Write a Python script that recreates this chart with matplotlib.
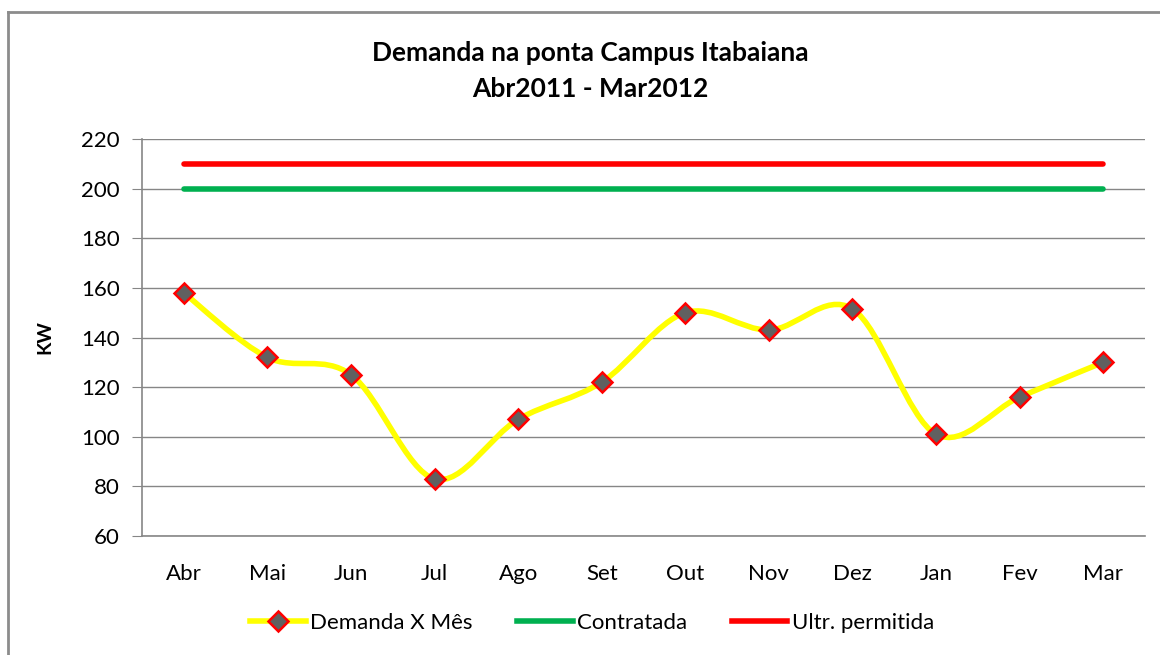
import matplotlib
matplotlib.use("Agg")
import matplotlib.pyplot as plt
from matplotlib.path import Path
from matplotlib.patches import PathPatch
from matplotlib.lines import Line2D
import numpy as np

plt.rcParams['font.family'] = ['Lato', 'DejaVu Sans']

months = ["Abr", "Mai", "Jun", "Jul", "Ago", "Set", "Out", "Nov", "Dez", "Jan", "Fev", "Mar"]
demanda = [158, 132, 125, 83, 107, 122, 150, 143, 151.5, 101, 116, 130]
contratada = [200] * 12
ultrapassagem = [210] * 12
yticks = [60, 80, 100, 120, 140, 160, 180, 200, 220]

title = "Demanda na ponta Campus Itabaiana\nAbr2011 - Mar2012"
ylabel = "KW"
legend_labels = ["Demanda X Mês", "Contratada", "Ultr. permitida"]

fig = plt.figure(figsize=(11.6, 6.55), dpi=100)
ax = fig.add_axes([142 / 1160, 1 - 536 / 655, (1145 - 142) / 1160, (536 - 139) / 655])

x = np.arange(len(months))
gray = "#868686"

# smoothed line (Catmull-Rom -> cubic Bezier)
pts = np.column_stack([x, demanda]).astype(float)
verts = [tuple(pts[0])]
codes = [Path.MOVETO]
n = len(pts)
for i in range(n - 1):
    p0 = pts[i - 1] if i > 0 else pts[i]
    p1 = pts[i]
    p2 = pts[i + 1]
    p3 = pts[i + 2] if i + 2 < n else pts[i + 1]
    c1 = p1 + (p2 - p0) / 6.0
    c2 = p2 - (p3 - p1) / 6.0
    verts += [tuple(c1), tuple(c2), tuple(p2)]
    codes += [Path.CURVE4] * 3
patch = PathPatch(Path(verts, codes), facecolor="none", edgecolor="#FFFF00",
                  lw=4.0, capstyle="round", zorder=3)
ax.add_patch(patch)
ax.plot(x, demanda, linestyle="none", marker="D", markersize=10,
        markerfacecolor="#606060", markeredgecolor="#FF0000", markeredgewidth=1.8, zorder=4)

ax.plot(x, contratada, color="#00B050", lw=4.0, solid_capstyle="round", zorder=3)
ax.plot(x, ultrapassagem, color="#FF0000", lw=4.0, solid_capstyle="round", zorder=3)

ax.set_xlim(-0.5, len(months) - 0.5)
ax.set_ylim(60, 220)
ax.set_yticks(yticks)
ax.set_xticks(x)
ax.set_xticklabels(months)
ax.yaxis.grid(True, color=gray, lw=1.0)
ax.set_axisbelow(True)
for s in ["top", "right"]:
    ax.spines[s].set_visible(False)
for s in ["left", "bottom"]:
    ax.spines[s].set_color(gray)
    ax.spines[s].set_linewidth(1.2)
ax.tick_params(axis="y", direction="out", length=7, color=gray, labelsize=16, pad=9)
ax.tick_params(axis="x", length=0, labelsize=16, pad=20)
ax.set_ylabel(ylabel, fontsize=14, fontweight="bold", labelpad=20)

fig.text(590 / 1160, 1 - 71 / 655, title, ha="center", va="center",
         fontsize=19, fontweight="bold", linespacing=1.6)

handles = [
    Line2D([], [], color="#FFFF00", lw=4, marker="D", markersize=10,
           markerfacecolor="#606060", markeredgecolor="#FF0000", markeredgewidth=1.8),
    Line2D([], [], color="#00B050", lw=4),
    Line2D([], [], color="#FF0000", lw=4),
]
fig.legend(handles, legend_labels, loc="center", bbox_to_anchor=(592 / 1160, 1 - 623 / 655),
           ncol=3, frameon=False, fontsize=16, handlelength=2.5, handletextpad=0.2,
           columnspacing=2.0)

# outer chart border (partially visible)
fig.add_artist(Line2D([8 / 1160, 8 / 1160], [0, 1 - 12 / 655], transform=fig.transFigure,
                      color="#8c8c8c", lw=2))
fig.add_artist(Line2D([8 / 1160, 1], [1 - 12 / 655, 1 - 12 / 655], transform=fig.transFigure,
                      color="#8c8c8c", lw=2))

fig.savefig("out.png", dpi=100)
